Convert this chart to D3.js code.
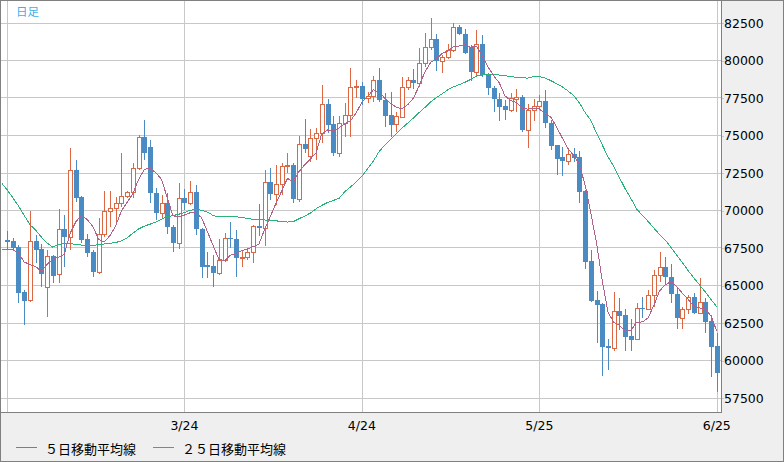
<!DOCTYPE html>
<html>
<head>
<meta charset="utf-8">
<script src="https://cdn.jsdelivr.net/npm/d3@7"></script>
<style>
  html, body { margin: 0; padding: 0; background: #efefef; }
  svg { display: block; }
</style>
</head>
<body>
<div id="chart"></div>
<script>
// Daily candles, one per calendar day from 2/22 to 6/25
const opens = [
  68030, 67990, 67590, 64590, 64030, 67990, 67430, 64920, 66950, 65750,
  68750, 68250, 72680, 70900, 68100, 67230, 65920, 68410, 69970, 70150,
  70480, 70970, 71210, 72810, 74920, 74230, 71190, 69850, 70480, 68880,
  67810, 70850, 70480, 71250, 68750, 66370, 66300, 65850, 66700, 68150,
  68080, 66810, 66880, 67210, 68970, 68810, 71880, 71080, 71750, 72970,
  73030, 70750, 74430, 73630, 74810, 75190, 77100, 75770, 73830, 75810,
  76370, 78210, 78300, 77480, 77630, 78700, 77370, 76370, 75770, 76250,
  78210, 78700, 78520, 79810, 80880, 81410, 79990, 80210, 80700, 82210,
  81750, 80920, 79250, 81080, 79030, 78150, 77410, 76970, 76700, 77410,
  77550, 75370, 76700, 76970, 77320, 75850, 74370, 73550, 73320, 73770,
  73590, 71320, 66630, 64030, 63770, 60970, 60810, 63300, 63030, 61630,
  61410, 63520, 63430, 64370, 65700, 66210, 65550, 64430, 62810, 63410,
  64210, 63150, 63920, 62630, 60970
];
const highs = [
  68650, 68150, 67700, 64700, 69970, 68370, 67770, 67370, 67030, 70080,
  69700, 74170, 73370, 70970, 68430, 67370, 69480, 71320, 71320, 70920,
  73810, 71320, 73150, 75030, 76030, 74700, 71500, 71030, 71150, 69030,
  71810, 71410, 71990, 71700, 68830, 67250, 67030, 68080, 68520, 69250,
  68700, 67370, 67480, 69030, 70430, 72700, 72810, 73030, 73150, 73810,
  73150, 74970, 76100, 75430, 75520, 78370, 77430, 76300, 76300, 77190,
  79480, 78700, 78590, 77920, 78970, 79480, 77810, 77920, 76590, 78880,
  78920, 79430, 80810, 81810, 82810, 81770, 80370, 81100, 82480, 82370,
  82080, 81030, 82030, 81700, 79150, 78300, 77810, 77370, 77810, 78080,
  77700, 77100, 77410, 77700, 78030, 76030, 74370, 74250, 74030, 74190,
  73970, 71370, 67370, 64630, 63850, 61430, 64590, 64190, 63430, 62770,
  63810, 64250, 64700, 66030, 67250, 66920, 66410, 64810, 63590, 64370,
  64480, 65480, 64150, 63030, 61850
];
const lows = [
  67370, 67370, 63810, 62390, 63880, 66480, 64880, 62920, 65190, 65190,
  66250, 67370, 70590, 67810, 66920, 65590, 65770, 68250, 68920, 69250,
  70250, 70810, 70810, 72700, 73370, 70480, 69370, 69410, 68410, 67250,
  67410, 70030, 70370, 68370, 65480, 65480, 64880, 65700, 66590, 67480,
  65590, 66210, 66700, 66520, 68300, 67650, 70700, 70370, 71030, 72480,
  70480, 70590, 73830, 73250, 73370, 74520, 75150, 73630, 73570, 74880,
  74880, 77480, 77030, 77150, 77250, 77250, 75590, 74920, 75250, 76170,
  78030, 78080, 78210, 79590, 80700, 79320, 79150, 80080, 80590, 81700,
  80430, 78650, 78970, 78900, 77700, 76590, 75990, 76030, 76570, 76590,
  75250, 74200, 75990, 76810, 75480, 74030, 72370, 72300, 73030, 73250,
  70520, 66080, 63920, 61190, 58990, 59370, 60650, 62030, 60650, 60650,
  61370, 62810, 63370, 63590, 65250, 65100, 63810, 62100, 62100, 63080,
  63100, 63150, 61810, 58920, 57920
];
const closes = [
  67920, 67520, 64520, 63990, 67990, 67370, 65770, 66950, 65630, 68750,
  68250, 72680, 70850, 68030, 67190, 65920, 68410, 69970, 70150, 70480,
  70970, 71210, 72810, 74920, 73850, 71190, 69850, 70480, 68880, 67810,
  70850, 70480, 71250, 68750, 66250, 66250, 65850, 66700, 68150, 68080,
  66810, 66880, 67210, 68970, 68810, 71880, 71080, 71750, 72970, 73030,
  70750, 74430, 74100, 74810, 75150, 77100, 75700, 73810, 75810, 76370,
  78210, 78300, 77430, 77630, 78700, 77370, 76320, 75700, 76300, 78210,
  78700, 78520, 79810, 80880, 81410, 79990, 80210, 80700, 82210, 81750,
  80480, 79250, 81080, 79030, 78150, 77410, 76920, 76700, 77480, 77550,
  75370, 76700, 76970, 77320, 75810, 74320, 73430, 73300, 73770, 73520,
  71250, 66590, 63990, 63700, 60920, 60810, 63300, 62990, 61590, 61370,
  63480, 63430, 64370, 65700, 66210, 65550, 64410, 62810, 63410, 64210,
  63150, 63920, 62590, 60920, 59190
];

// Moving averages as plotted; they begin one day earlier (2/21),
// which is why the lines reach the left edge of the plot
const ma5 = [
  67370,
  67370, 67370, 67170, 66570, 66390, 66270, 65930, 66410, 66740, 66890,
  67070, 68450, 69230, 69710, 69400, 68930, 68080, 67910, 68330, 68990,
  69990, 70550, 71130, 72080, 72750, 72800, 72530, 72060, 70850, 69640,
  69570, 69700, 69850, 69830, 69520, 68600, 67670, 66760, 66640, 67010,
  67120, 67330, 67430, 67590, 67740, 68750, 69590, 70500, 71300, 72140,
  71910, 72590, 73050, 73430, 73850, 75120, 75370, 75310, 75510, 75760,
  75980, 76500, 77230, 77590, 78050, 77890, 77490, 77150, 76880, 76780,
  77050, 77490, 78310, 79230, 79870, 80120, 80460, 80640, 80910, 80970,
  81070, 80880, 80950, 80320, 79600, 78990, 78520, 77640, 77330, 77210,
  76800, 76760, 76810, 76780, 76430, 76230, 75570, 74840, 74130, 73670,
  73050, 71690, 69820, 67810, 65290, 63200, 62550, 62350, 61920, 62010,
  62550, 62570, 62850, 63670, 64640, 65050, 65250, 64940, 64480, 64080,
  63600, 63500, 63450, 62960, 61950
];
const ma25 = [
  71860,
  71390, 70870, 70300, 69680, 69050, 68700, 68230, 67830, 67550, 67750,
  67790, 67790, 67750, 67700, 67650, 67650, 67730, 67770, 67810, 67870,
  67970, 68180, 68490, 68770, 68960, 69090, 69230, 69410, 69590, 69660,
  69750, 69870, 70010, 70100, 70010, 69900, 69670, 69570, 69610, 69620,
  69590, 69530, 69470, 69410, 69370, 69370, 69340, 69310, 69270, 69230,
  69250, 69450, 69630, 69830, 70120, 70340, 70540, 70670, 70810, 71250,
  71560, 71900, 72290, 72790, 73290, 73930, 74360, 74740, 75120, 75490,
  75830, 76170, 76530, 76870, 77230, 77530, 77770, 78050, 78240, 78390,
  78550, 78740, 78960, 79040, 79090, 79070, 79030, 78990, 78930, 78880,
  78840, 78830, 78920, 78930, 78830, 78660, 78460, 78250, 77970, 77670,
  77170, 76530, 76000, 75150, 74370, 73570, 72930, 72190, 71440, 70800,
  70100, 69670, 69270, 68830, 68400, 68030, 67530, 67030, 66520, 65990,
  65500, 65030, 64570, 64070, 63570
];

const yTicks = [57500, 60000, 62500, 65000, 67500, 70000, 72500, 75000, 77500, 80000, 82500];
const gridDates = ['2024-02-22', '2024-03-24', '2024-04-24', '2024-05-25', '2024-06-25'];
const legendLabels = ['５日移動平均線', '２５日移動平均線'];
const chartTitle = '日足';

const width = 784;
const height = 462;
const plot = { left: 1, top: 1, right: 721, bottom: 412 };

const colors = {
  up: '#dc6843',
  down: '#4b8bc3',
  ma5: '#b0628a',
  ma25: '#2cb37a',
  grid: '#c8c8c8',
  frame: '#808080',
  panel: '#efefef',
  title: '#3cb0ec',
};

const keyFormat = d3.timeFormat('%Y-%m-%d');
const labelFormat = d3.timeFormat('%-m/%-d');
const parseKey = d3.timeParse('%Y-%m-%d');

// 2/21 only carries the averages; candles start on 2/22
const days = d3.timeDay.range(new Date(2024, 1, 21), new Date(2024, 5, 26));
const dayKeys = days.map(keyFormat);

const candles = dayKeys.slice(1).map((key, i) => ({
  key: key,
  open: opens[i],
  high: highs[i],
  low: lows[i],
  close: closes[i],
}));

const step = 5.724;
const x = d3.scalePoint()
  .domain(dayKeys)
  .range([7 - step, 716.8]);

const y = d3.scaleLinear()
  .domain([57500, 82500])
  .range([398, 23]);

const svg = d3.select('#chart')
  .append('svg')
  .attr('width', width)
  .attr('height', height);

// grey panels behind everything, white plot on top
svg.append('rect')
  .attr('width', width)
  .attr('height', height)
  .attr('fill', colors.panel);

svg.append('rect')
  .attr('x', plot.left)
  .attr('y', plot.top)
  .attr('width', plot.right - plot.left)
  .attr('height', plot.bottom - plot.top)
  .attr('fill', '#fff');

svg.append('clipPath')
  .attr('id', 'plotClip')
  .append('rect')
  .attr('x', plot.left + 1)
  .attr('y', plot.top)
  .attr('width', plot.right - plot.left - 1)
  .attr('height', plot.bottom - plot.top);

// Gridlines
const grid = svg.append('g')
  .attr('shape-rendering', 'crispEdges')
  .attr('stroke', colors.grid)
  .attr('stroke-width', 1);

grid.selectAll('line.h')
  .data(yTicks)
  .enter()
  .append('line')
  .attr('class', 'h')
  .attr('x1', plot.left)
  .attr('x2', plot.right)
  .attr('y1', (d) => Math.floor(y(d)) + 0.5)
  .attr('y2', (d) => Math.floor(y(d)) + 0.5);

grid.selectAll('line.v')
  .data(gridDates)
  .enter()
  .append('line')
  .attr('class', 'v')
  .attr('x1', (d) => Math.round(x(d)) + 0.5)
  .attr('x2', (d) => Math.round(x(d)) + 0.5)
  .attr('y1', plot.top)
  .attr('y2', plot.bottom);

const chart = svg.append('g').attr('clip-path', 'url(#plotClip)');

// Candles
const candle = chart.selectAll('g.candle')
  .data(candles)
  .enter()
  .append('g')
  .attr('class', 'candle')
  .attr('shape-rendering', 'crispEdges');

function leftEdge(d) {
  return Math.round(x(d.key) - 2);
}

candle.append('line')
  .attr('x1', (d) => leftEdge(d) + 2.5)
  .attr('x2', (d) => leftEdge(d) + 2.5)
  .attr('y1', (d) => Math.round(y(d.high)))
  .attr('y2', (d) => Math.round(y(d.low)))
  .attr('stroke', (d) => (d.close > d.open ? colors.up : colors.down))
  .attr('stroke-width', 1);

candle.append('rect')
  .attr('x', (d) => (d.close > d.open ? leftEdge(d) + 0.5 : leftEdge(d)))
  .attr('y', (d) => {
    const top = Math.round(y(Math.max(d.open, d.close)));
    return d.close > d.open ? top + 0.5 : top;
  })
  .attr('width', (d) => (d.close > d.open ? 4 : 5))
  .attr('height', (d) => Math.max(1, Math.round(y(Math.min(d.open, d.close))) - Math.round(y(Math.max(d.open, d.close)))))
  .attr('fill', (d) => (d.close > d.open ? '#fff' : colors.down))
  .attr('stroke', (d) => (d.close > d.open ? colors.up : 'none'))
  .attr('stroke-width', 1);

// Moving averages
const line = d3.line()
  .x((d, i) => x(dayKeys[i]))
  .y((d) => y(d));

chart.append('path')
  .datum(ma25)
  .attr('d', line)
  .attr('fill', 'none')
  .attr('stroke', colors.ma25)
  .attr('stroke-width', 1)
  .attr('shape-rendering', 'crispEdges');

chart.append('path')
  .datum(ma5)
  .attr('d', line)
  .attr('fill', 'none')
  .attr('stroke', colors.ma5)
  .attr('stroke-width', 1)
  .attr('shape-rendering', 'crispEdges');

// Frame lines
const frame = svg.append('g')
  .attr('shape-rendering', 'crispEdges')
  .attr('stroke', colors.frame)
  .attr('fill', 'none');

frame.append('rect')
  .attr('x', 0.5)
  .attr('y', 0.5)
  .attr('width', width - 1)
  .attr('height', height - 1);

frame.append('line')
  .attr('x1', 0).attr('x2', plot.right + 1)
  .attr('y1', plot.bottom + 0.5).attr('y2', plot.bottom + 0.5);

frame.append('line')
  .attr('x1', plot.right + 0.5).attr('x2', plot.right + 0.5)
  .attr('y1', 0).attr('y2', plot.bottom + 1);

// Price axis on the right
const yAxis = svg.append('g')
  .attr('transform', 'translate(' + (plot.right + 1) + ',0)')
  .call(d3.axisRight(y).tickValues(yTicks).tickSize(2).tickPadding(0).tickFormat(d3.format('d')));

yAxis.select('.domain').remove();
yAxis.selectAll('line').attr('stroke', colors.grid).attr('shape-rendering', 'crispEdges');
yAxis.selectAll('text')
  .attr('fill', '#000')
  .style('font-family', 'DejaVu Sans')
  .style('font-size', '12.5px');

// Date labels (the first gridline sits at the left edge, no label there)
svg.append('g')
  .selectAll('text')
  .data(gridDates.filter((d) => x(d) > 20))
  .enter()
  .append('text')
  .attr('x', (d) => x(d))
  .attr('y', 429.5)
  .attr('text-anchor', 'middle')
  .style('font-family', 'DejaVu Sans')
  .style('font-size', '12.5px')
  .attr('fill', '#000')
  .text((d) => labelFormat(parseKey(d)));

// Legend
const legendX = [16, 153];
const legendColors = [colors.ma5, colors.ma25];

const legend = svg.append('g')
  .selectAll('g')
  .data(legendLabels)
  .enter()
  .append('g')
  .attr('transform', (d, i) => 'translate(' + legendX[i] + ',447)');

legend.append('line')
  .attr('x1', 0)
  .attr('x2', 21)
  .attr('y1', 0.5)
  .attr('y2', 0.5)
  .attr('stroke', (d, i) => legendColors[i])
  .attr('shape-rendering', 'crispEdges');

legend.append('text')
  .attr('x', 29)
  .attr('y', 1)
  .attr('dominant-baseline', 'central')
  .style('font-family', 'Noto Sans CJK JP')
  .style('font-size', '13px')
  .attr('fill', '#000')
  .text((d) => d);

// Title in the top-left corner
svg.append('text')
  .attr('x', 16)
  .attr('y', 10.5)
  .attr('dominant-baseline', 'central')
  .style('font-family', 'Noto Sans CJK JP')
  .style('font-size', '11.5px')
  .attr('fill', colors.title)
  .text(chartTitle);
</script>
</body>
</html>
